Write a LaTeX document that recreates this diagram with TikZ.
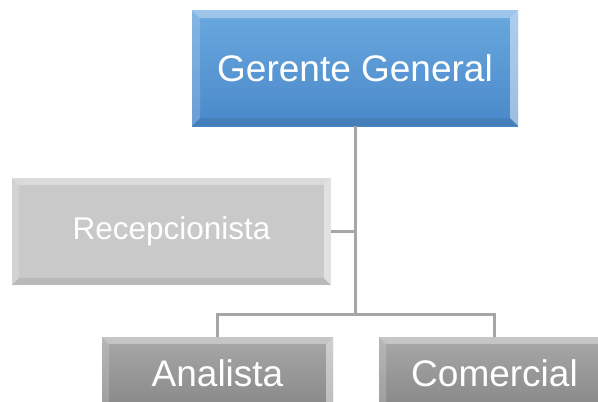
\documentclass[tikz,border=0pt]{standalone}
\usepackage{fontspec}
\setmainfont{Liberation Sans}
\begin{document}
\begin{tikzpicture}[x=1pt,y=-1pt,
  bevel/.style={
    path picture={
      \fill[white,opacity=0.35] (path picture bounding box.north west) -- (path picture bounding box.north east)
        -- ([xshift=-#1,yshift=-#1]path picture bounding box.north east) -- ([xshift=#1,yshift=-#1]path picture bounding box.north west) -- cycle;
      \fill[white,opacity=0.18] (path picture bounding box.north west) -- (path picture bounding box.south west)
        -- ([xshift=#1,yshift=#1]path picture bounding box.south west) -- ([xshift=#1,yshift=-#1]path picture bounding box.north west) -- cycle;
      \fill[white,opacity=0.45] (path picture bounding box.north east) -- (path picture bounding box.south east)
        -- ([xshift=-#1,yshift=#1]path picture bounding box.south east) -- ([xshift=-#1,yshift=-#1]path picture bounding box.north east) -- cycle;
      \fill[black,opacity=0.08] (path picture bounding box.south west) -- (path picture bounding box.south east)
        -- ([xshift=-#1,yshift=#1]path picture bounding box.south east) -- ([xshift=#1,yshift=#1]path picture bounding box.south west) -- cycle;
    }},
  box/.style={inner sep=0pt, text=white, align=center},
  conn/.style={draw=gray!70, line width=3pt}
]
\useasboundingbox (0,0) rectangle (598,402);
\clip (0,0) rectangle (598,402);
\definecolor{bluetop}{HTML}{6AA8DF}
\definecolor{bluebot}{HTML}{4A89CA}
\definecolor{recgray}{HTML}{C9C9C9}
\definecolor{dgtop}{HTML}{A8A8A8}
\definecolor{dgbot}{HTML}{888888}

\node[box, bevel=8pt, top color=bluetop, bottom color=bluebot, minimum width=326pt, minimum height=116pt,
  font=\fontsize{37}{44}\selectfont] (ger) at (355,68) {Gerente General};
\node[box, bevel=7pt, fill=recgray, minimum width=319pt, minimum height=107pt,
  font=\fontsize{31.5}{37}\selectfont] (rec) at (171.5,231.5) {Recepcionista};
\node[box, bevel=7pt, top color=dgtop, bottom color=dgbot, minimum width=231pt, minimum height=72pt,
  font=\fontsize{37}{44}\selectfont] (ana) at (217.5,373) {Analista};
\node[box, bevel=7pt, top color=dgtop, bottom color=dgbot, minimum width=231pt, minimum height=72pt,
  font=\fontsize{37}{44}\selectfont] (com) at (494.5,373) {Comercial};

\coordinate (hub) at (355,314);
\draw[conn] (ger.south) -- (hub);
\draw[conn] (ana.north) |- (hub) -| (com.north);
\draw[conn] (rec.east) -- (rec.east -| ger.south);
\end{tikzpicture}
\end{document}
